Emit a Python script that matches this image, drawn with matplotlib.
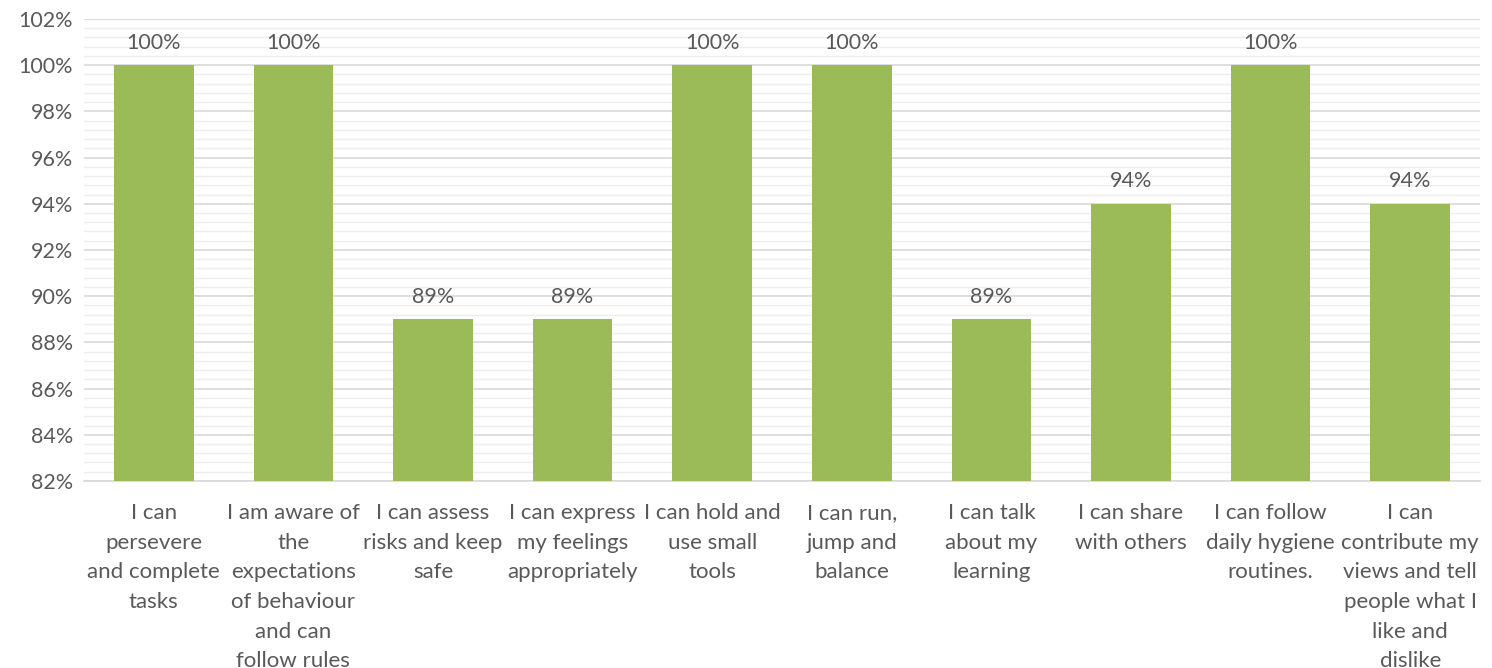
import matplotlib
matplotlib.use("Agg")
import matplotlib.pyplot as plt
from matplotlib.ticker import MultipleLocator, FuncFormatter

categories = [
    "I can\npersevere\nand complete\ntasks",
    "I am aware of\nthe\nexpectations\nof behaviour\nand can\nfollow rules",
    "I can assess\nrisks and keep\nsafe",
    "I can express\nmy feelings\nappropriately",
    "I can hold and\nuse small\ntools",
    "I can run,\njump and\nbalance",
    "I can talk\nabout my\nlearning",
    "I can share\nwith others",
    "I can follow\ndaily hygiene\nroutines.",
    "I can\ncontribute my\nviews and tell\npeople what I\nlike and\ndislike",
]
values = [100, 100, 89, 89, 100, 100, 89, 94, 100, 94]

BAR_COLOR = "#9bbb59"
TEXT_COLOR = "#595959"

plt.rcParams["font.family"] = ["Lato", "DejaVu Sans"]

fig = plt.figure(figsize=(14.92, 6.68), dpi=100)
ax = fig.add_axes([0.0563, 0.280, 0.9357, 0.6916])

x = list(range(len(values)))
bars = ax.bar(x, values, width=0.57, color=BAR_COLOR, zorder=3)

ax.set_ylim(82, 102)
ax.set_xlim(-0.5, len(values) - 0.5)
ax.yaxis.set_major_locator(MultipleLocator(2))
ax.yaxis.set_minor_locator(MultipleLocator(0.4))
ax.yaxis.set_major_formatter(FuncFormatter(lambda v, _: f"{v:.0f}%"))
ax.grid(axis="y", which="major", color="#d9d9d9", linewidth=1.2, zorder=0)
ax.grid(axis="y", which="minor", color="#eeeeee", linewidth=1.0, zorder=0)

for side in ["top", "right", "left"]:
    ax.spines[side].set_visible(False)
ax.spines["bottom"].set_color("#d9d9d9")
ax.spines["bottom"].set_linewidth(1.2)

ax.tick_params(axis="both", which="both", length=0, colors=TEXT_COLOR, labelsize=15.5)
ax.tick_params(axis="y", pad=8)
ax.tick_params(axis="x", pad=16, labelsize=16)
ax.set_xticks(x)
ax.set_xticklabels(categories, linespacing=1.6, va="top")

for bar, v in zip(bars, values):
    ax.annotate(f"{v}%", (bar.get_x() + bar.get_width() / 2, v),
                xytext=(0, 9), textcoords="offset points",
                ha="center", va="bottom", fontsize=15.5, color=TEXT_COLOR)

fig.savefig("out.png", dpi=100)
